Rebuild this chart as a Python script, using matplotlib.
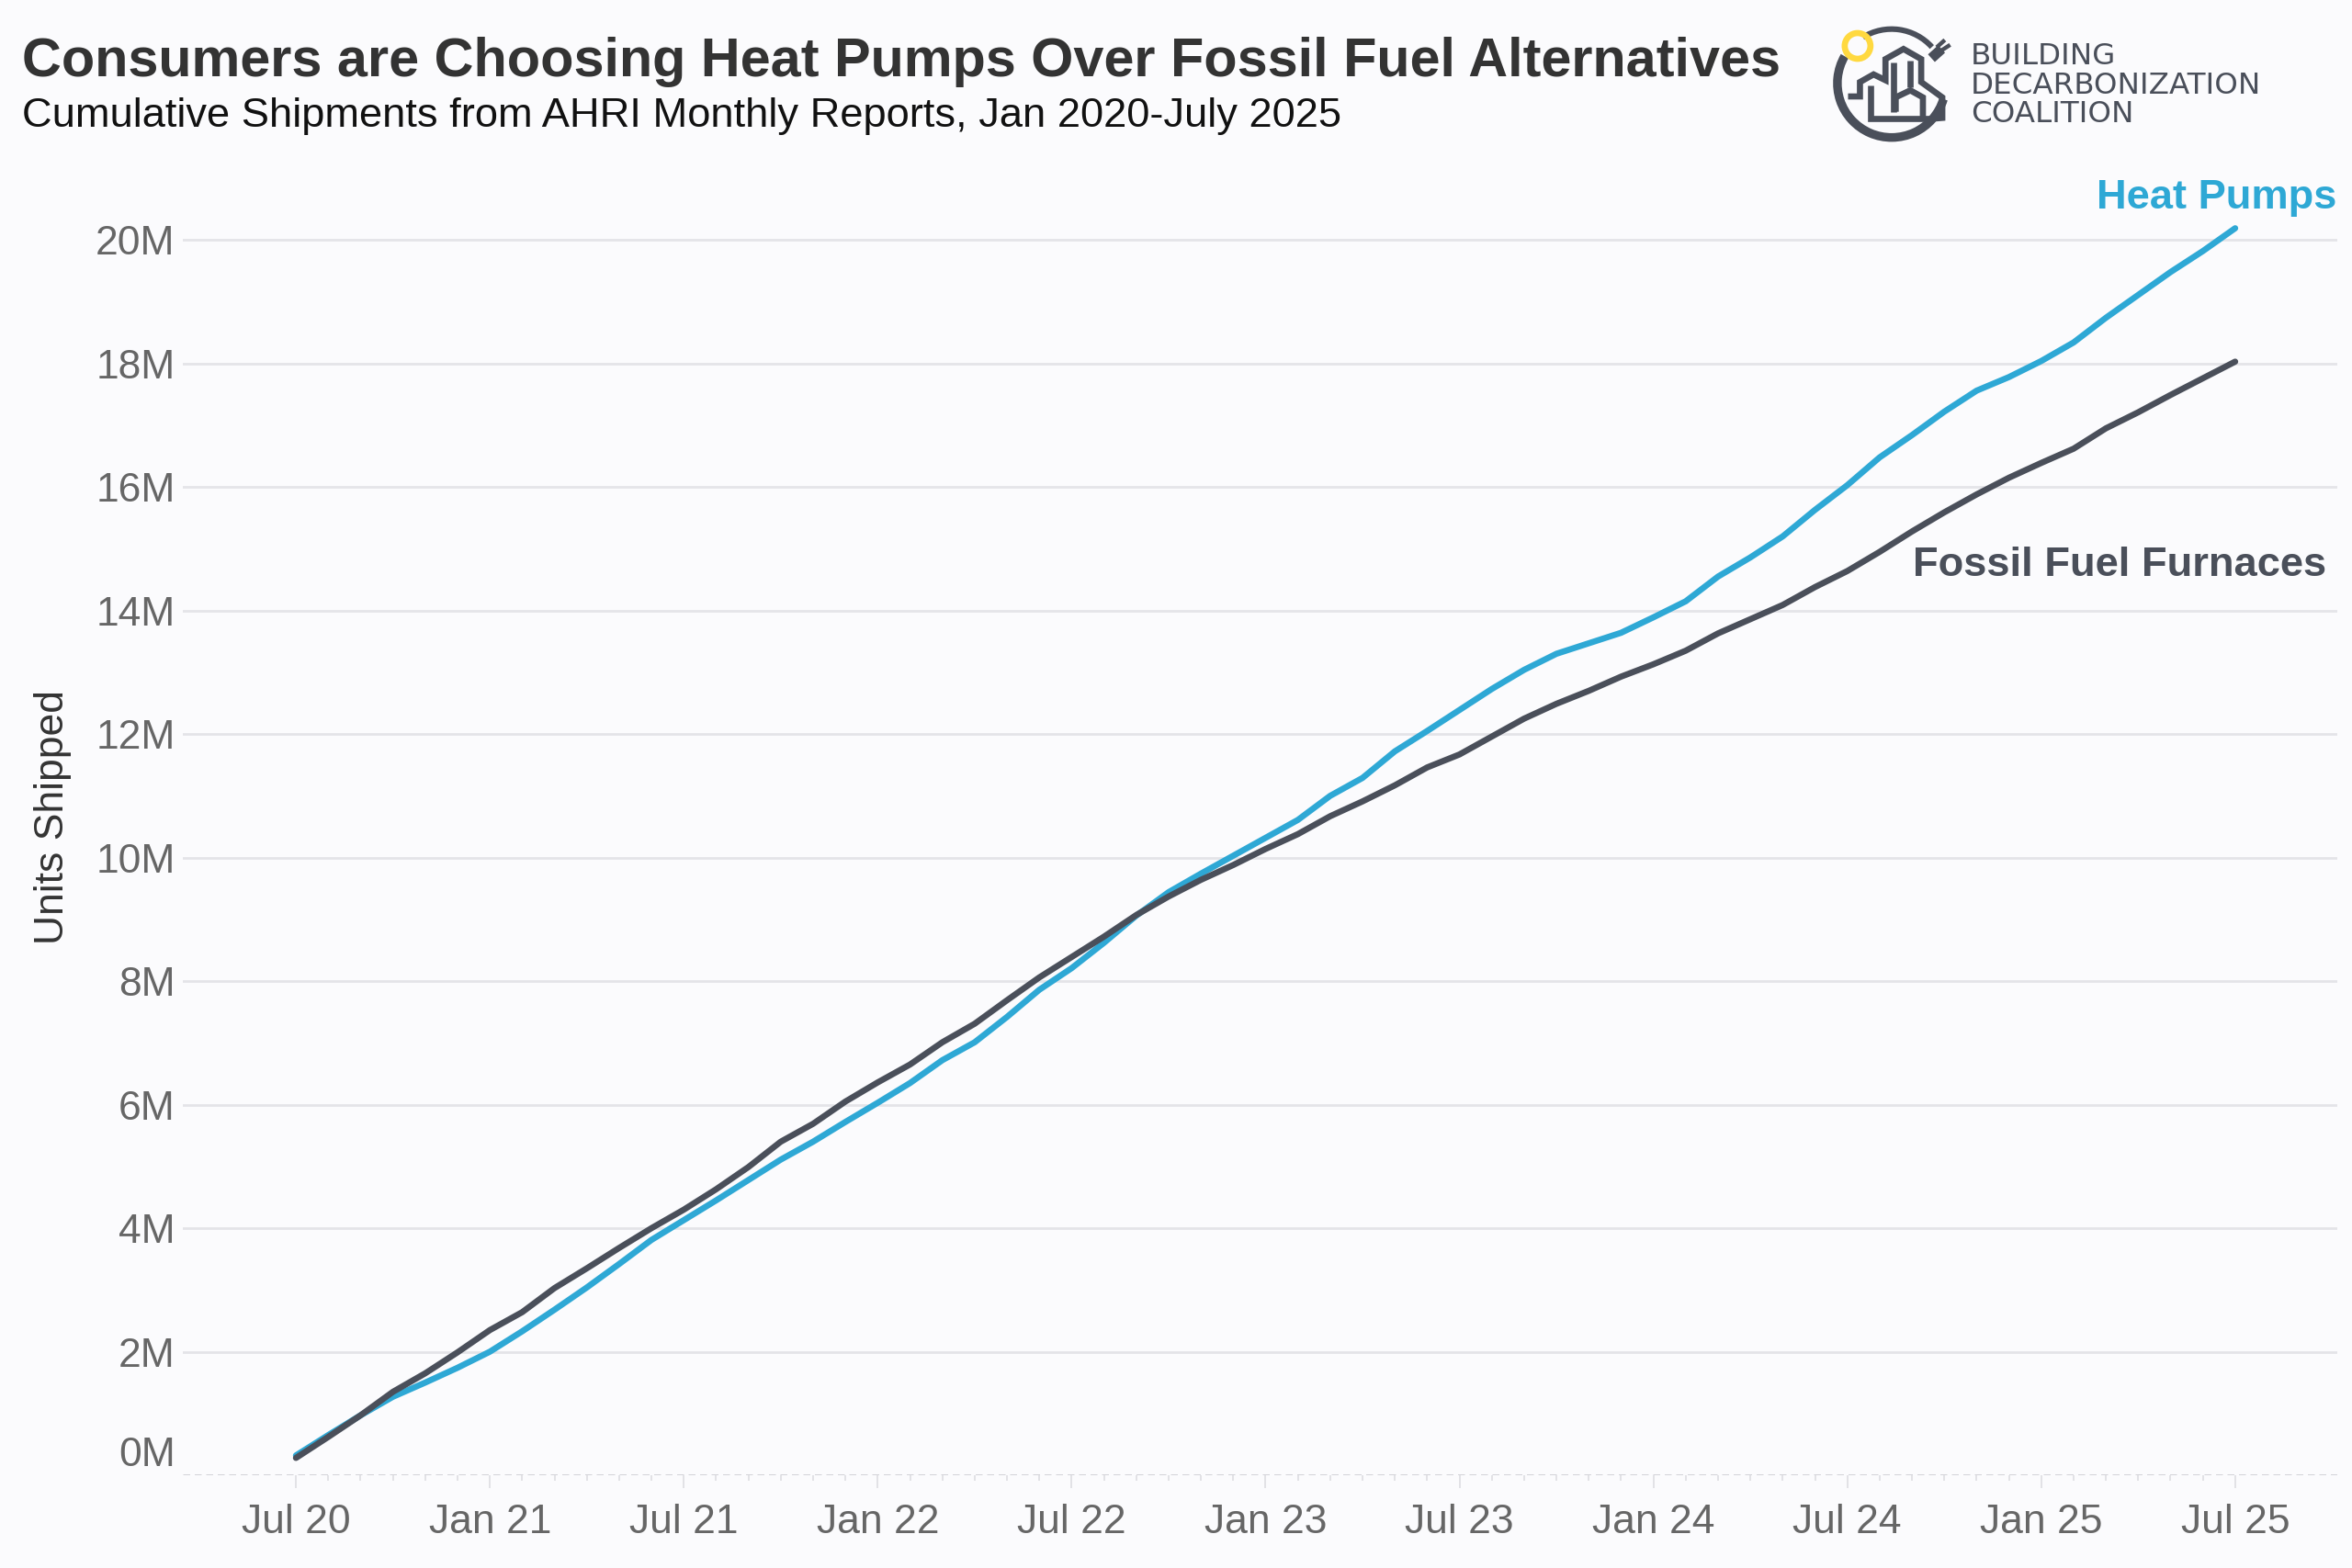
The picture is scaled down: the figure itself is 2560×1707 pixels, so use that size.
import matplotlib
matplotlib.use("Agg")
import matplotlib.pyplot as plt
import matplotlib.transforms as mtransforms
from matplotlib.patches import Arc, Circle

W, H = 2560, 1707
DPI = 200

# months since Jul 2020 (0 = Jul 20 ... 60 = Jul 25)
months = list(range(61))

# cumulative shipments, millions of units
heat_pumps = [0.32, 0.65, 0.97, 1.27, 1.50, 1.74, 2.00, 2.33, 2.68, 3.04,
              3.42, 3.81, 4.13, 4.45, 4.78, 5.11, 5.40, 5.72, 6.03, 6.35,
              6.72, 7.01, 7.42, 7.86, 8.21, 8.62, 9.06, 9.44, 9.74, 10.03,
              10.32, 10.61, 11.00, 11.29, 11.72, 12.05, 12.39, 12.73, 13.04, 13.30,
              13.47, 13.64, 13.89, 14.15, 14.55, 14.86, 15.20, 15.63, 16.03, 16.48,
              16.84, 17.22, 17.56, 17.78, 18.04, 18.34, 18.74, 19.11, 19.48, 19.82,
              20.19]
fossil_furnaces = [0.28, 0.62, 0.97, 1.35, 1.65, 1.99, 2.35, 2.64, 3.03, 3.35,
                   3.68, 4.00, 4.30, 4.63, 4.99, 5.40, 5.69, 6.05, 6.36, 6.65,
                   7.01, 7.31, 7.69, 8.06, 8.39, 8.72, 9.07, 9.37, 9.64, 9.88,
                   10.14, 10.38, 10.67, 10.91, 11.17, 11.46, 11.67, 11.96, 12.25, 12.49,
                   12.70, 12.93, 13.13, 13.35, 13.63, 13.86, 14.09, 14.38, 14.64, 14.95,
                   15.28, 15.59, 15.88, 16.15, 16.39, 16.62, 16.95, 17.21, 17.49, 17.76,
                   18.03]

x_tick_months = [0, 6, 12, 18, 24, 30, 36, 42, 48, 54, 60]
x_tick_labels = ["Jul 20", "Jan 21", "Jul 21", "Jan 22", "Jul 22", "Jan 23",
                 "Jul 23", "Jan 24", "Jul 24", "Jan 25", "Jul 25"]
y_ticks = [0, 2, 4, 6, 8, 10, 12, 14, 16, 18, 20]
y_tick_labels = ["0M", "2M", "4M", "6M", "8M", "10M", "12M", "14M", "16M", "18M", "20M"]

plt.rcParams['font.family'] = ['Liberation Sans', 'DejaVu Sans']

BG = '#fbfbfd'
BLUE = '#2ea8d5'
DARK = '#4a4f5a'
GREY_TXT = '#666666'


def fx(x):
    return x / W


def fy(y):
    return 1 - y / H


fig = plt.figure(figsize=(W / DPI, H / DPI), dpi=DPI, facecolor=BG)

# main axes
ax = fig.add_axes([fx(199), fy(1606), fx(2544) - fx(199), fy(194) - fy(1606)])
ax.set_facecolor(BG)
for s in ax.spines.values():
    s.set_visible(False)

for v in y_ticks[1:]:
    ax.axhline(v, color='#e4e4e8', lw=1.0, zorder=1)
ax.axhline(0, color='#c8c8cc', lw=0.9, ls=(0, (3, 2)), zorder=1)

ax.plot(months, heat_pumps, color=BLUE, lw=2.4, solid_capstyle='round',
        solid_joinstyle='round', zorder=3)
ax.plot(months, fossil_furnaces, color=DARK, lw=2.4, solid_capstyle='round',
        solid_joinstyle='round', zorder=4)

ax.set_xlim(-3.5, 63.16)
ax.set_ylim(0, 21)

ax.set_xticks(x_tick_months)
ax.set_xticklabels(x_tick_labels)
ax.set_xticks(months, minor=True)
ax.tick_params(axis='x', which='major', length=5, width=0.7, color='#e2e2e6',
               labelsize=16, labelcolor=GREY_TXT, pad=6)
ax.tick_params(axis='x', which='minor', length=2.2, width=0.7, color='#e2e2e6')

ax.set_yticks(y_ticks)
ax.set_yticklabels(y_tick_labels)
ax.tick_params(axis='y', length=0, labelsize=16, labelcolor=GREY_TXT, pad=3)
# zero label sits a bit above the dashed baseline
zero_lbl = ax.get_yticklabels()[0]
zero_lbl.set_transform(zero_lbl.get_transform() +
                       mtransforms.ScaledTranslation(0, 26 / DPI, fig.dpi_scale_trans))

# series labels
fig.text(fx(2543), fy(227), "Heat Pumps", ha='right', va='baseline',
         fontsize=16.3, weight='bold', color=BLUE)
fig.text(fx(2532), fy(627), "Fossil Fuel Furnaces", ha='right', va='baseline',
         fontsize=16.3, weight='bold', color=DARK)

# titles
fig.text(fx(24), fy(83), "Consumers are Choosing Heat Pumps Over Fossil Fuel Alternatives",
         ha='left', va='baseline', fontsize=21.4, weight='bold', color='#333333')
fig.text(fx(24), fy(138), "Cumulative Shipments from AHRI Monthly Reports, Jan 2020-July 2025",
         ha='left', va='baseline', fontsize=16.3, color='#111111')
fig.text(fx(57), fy(890), "Units Shipped", rotation=90, ha='center', va='center',
         fontsize=16, color='#333333')

# logo
lax = fig.add_axes([fx(1990), fy(165), fx(2140) - fx(1990), fy(15) - fy(165)])
lax.set_xlim(1990, 2140)
lax.set_ylim(H - 165, H - 15)
lax.axis('off')


def zp(zx, zy):
    # logo sketch points -> pixel coords (y up)
    return 1980 + zx / 2.7, H - zy / 3.0


cx, cy = zp(213, 272)
lax.add_patch(Arc((cx, cy), 118, 118, theta1=150, theta2=343, color=DARK, lw=3.4))
lax.add_patch(Arc((cx, cy), 118, 118, theta1=42, theta2=122, color=DARK, lw=2.2))
yx, yy = zp(113, 150)
lax.add_patch(Circle((yx, yy), 14, fill=False, ec='#ffd940', lw=2.4, zorder=5))

skyline = [
    [(85, 315), (120, 315), (120, 268), (160, 243), (195, 262), (195, 193),
     (248, 160), (300, 193), (300, 268), (362, 318), (362, 385), (330, 388)],
    [(150, 278), (150, 388), (330, 388)],
    [(218, 205), (218, 365)],
    [(268, 198), (268, 285)],
    [(225, 365), (225, 318), (268, 295), (305, 318), (305, 388)],
]
for pts in skyline:
    xs, ys = zip(*[zp(a, b) for a, b in pts])
    lax.plot(xs, ys, color=DARK, lw=2.4, solid_joinstyle='miter', solid_capstyle='butt')

px0, py0 = zp(330, 190)
px1, py1 = zp(360, 160)
lax.plot([px0, px1], [py0, py1], color=DARK, lw=4.0, solid_capstyle='butt')
for a, b, c, d in [(350, 150, 365, 135), (362, 163, 380, 150)]:
    p, q = zp(a, b)
    r, t = zp(c, d)
    lax.plot([p, r], [q, t], color=DARK, lw=1.6)

for i, word in enumerate(["BUILDING", "DECARBONIZATION", "COALITION"]):
    fig.text(fx(2145), fy(70 + 31.5 * i), word, ha='left', va='baseline',
             fontsize=11.7, family='DejaVu Sans', weight='medium', color=DARK)

fig.savefig("out.png", dpi=DPI, facecolor=BG)
